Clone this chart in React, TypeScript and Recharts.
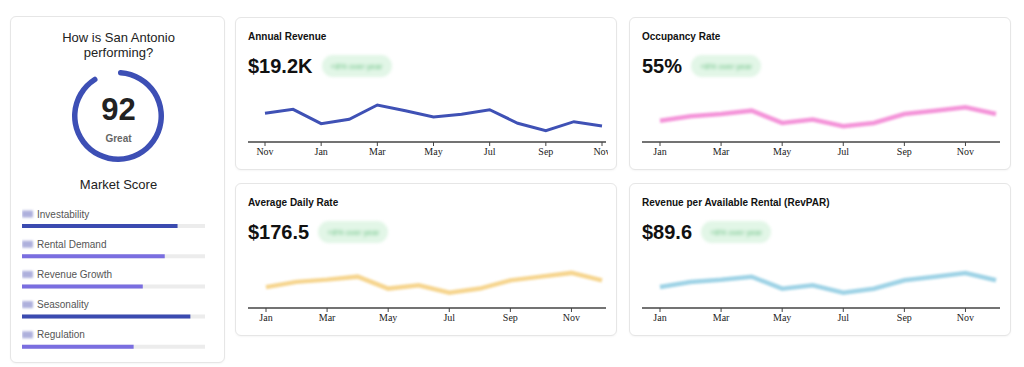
import React from 'react';
import { LineChart, Line, XAxis, YAxis, PieChart, Pie, Cell, BarChart, Bar, LabelList } from 'recharts';

// market score
const score = 92;
const scoreLabel = 'Great';

const metricNames = ['Investability', 'Rental Demand', 'Revenue Growth', 'Seasonality', 'Regulation'];
const metricValues = [85, 78, 66, 92, 61];
const metricColors = ['#3b4bb0', '#7a6ee0', '#7a6ee0', '#3b4bb0', '#7a6ee0'];

// monthly series
const revenueMonths = ['Nov', 'Dec', 'Jan', 'Feb', 'Mar', 'Apr', 'May', 'Jun', 'Jul', 'Aug', 'Sep', 'Oct', 'Nov'];
const revenueValues = [1513, 1584, 1327, 1405, 1661, 1559, 1446, 1495, 1577, 1334, 1202, 1363, 1286];

const months = ['Jan', 'Feb', 'Mar', 'Apr', 'May', 'Jun', 'Jul', 'Aug', 'Sep', 'Oct', 'Nov', 'Dec'];
const occupancyValues = [49, 53, 55, 58, 47, 50, 44, 47, 55, 58, 61, 55];
const adrValues = [156, 170, 176, 184, 152, 161, 141, 152, 174, 184, 194, 174];
const revparValues = [77.5, 86.4, 90.5, 95.9, 74.5, 80.5, 67.3, 74.5, 89.5, 95.9, 102.5, 89.5];

const sans = 'Helvetica, Arial, "Liberation Sans", sans-serif';
const serif = '"Liberation Serif", "Times New Roman", serif';

const card: React.CSSProperties = {
  position: 'absolute',
  boxSizing: 'border-box',
  border: '1px solid #e6e6e6',
  borderRadius: 6,
  background: '#fff',
  boxShadow: '0 1px 2px rgba(0,0,0,0.04)',
};

const Badge = () => (
  <div style={{ width: 70, height: 22, borderRadius: 11, background: '#e2f6e7', filter: 'blur(1.5px)', display: 'flex', alignItems: 'center', justifyContent: 'center' }}>
    <span style={{ fontSize: 8, color: '#63bd7d', fontFamily: sans, filter: 'blur(0.8px)' }}>+8% over year</span>
  </div>
);

type MetricProps = {
  left: number;
  top: number;
  title: string;
  value: string;
  cats: string[];
  values: number[];
  domain: [number, number];
  color: string;
  soft?: boolean;
  padLeft: number;
};

function MetricCard({ left, top, title, value, cats, values, domain, color, soft, padLeft }: MetricProps) {
  const data = cats.map((m, i) => ({ month: m, value: values[i] }));
  return (
    <div style={{ ...card, left, top, width: 382, height: 153 }}>
      <div style={{ position: 'absolute', left: 12, top: 13, fontSize: 10, lineHeight: '12px', fontWeight: 700, color: '#111', fontFamily: sans }}>
        {title}
      </div>
      <div style={{ position: 'absolute', left: 12, top: 37, height: 22, display: 'flex', alignItems: 'center', gap: 9 }}>
        <span style={{ fontSize: 20, fontWeight: 700, color: '#111', fontFamily: sans }}>{value}</span>
        <Badge />
      </div>
      <div className={soft ? 'soft' : ''} style={{ position: 'absolute', left: 12, top: 68 }}>
        <LineChart width={360} height={78} data={data} margin={{ top: 0, right: 2, bottom: 0, left: 0 }}>
          <XAxis
            dataKey="month"
            interval={1}
            height={22}
            padding={{ left: padLeft, right: 4 }}
            axisLine={{ stroke: '#444', strokeWidth: 1.3 }}
            tickLine={{ stroke: '#444' }}
            tickSize={4}
            tick={{ fontSize: 10, fill: '#222', fontFamily: serif }}
          />
          <YAxis hide domain={domain} />
          <Line type="linear" dataKey="value" stroke={color} strokeWidth={soft ? 4.5 : 3} dot={false} isAnimationActive={false} />
        </LineChart>
      </div>
    </div>
  );
}

const renderMetricLabel = (props: any) => {
  const { x, y, value } = props;
  return (
    <g>
      <rect x={x} y={y - 13.5} width={11} height={7} fill="#aeb0dc" style={{ filter: 'blur(1px)' }} />
      <text x={x + 15} y={y - 6.5} fontSize={10} fill="#555" fontFamily={sans}>
        {value}
      </text>
    </g>
  );
};

export default function App() {
  const scoreData = [
    { name: 'score', value: score },
    { name: 'rest', value: 100 - score },
  ];
  const metricData = metricNames.map((n, i) => ({ name: n, value: metricValues[i] }));

  return (
    <div style={{ position: 'absolute', left: 0, top: 0, width: 1024, height: 367, background: '#fff', overflow: 'hidden' }}>
      <style>{`.soft .recharts-line-curve { filter: blur(1.3px); }`}</style>

      {/* market score card */}
      <div style={{ ...card, left: 10, top: 16, width: 215, height: 347 }}>
        <div style={{ position: 'absolute', left: 0, width: 215, top: 13, textAlign: 'center', fontSize: 13, lineHeight: '15px', color: '#222', fontFamily: sans }}>
          How is San Antonio
          <br />
          performing?
        </div>
        <div style={{ position: 'absolute', left: 57, top: 49 }}>
          <PieChart width={100} height={100} margin={{ top: 0, right: 0, bottom: 0, left: 0 }}>
            <Pie
              data={scoreData}
              dataKey="value"
              cx={50}
              cy={50}
              innerRadius={40.5}
              outerRadius={46}
              startAngle={90}
              endAngle={-270}
              cornerRadius={3}
              stroke="none"
              isAnimationActive={false}
            >
              <Cell fill="#3d4fb5" />
              <Cell fill="transparent" />
            </Pie>
          </PieChart>
        </div>
        <div style={{ position: 'absolute', left: 0, width: 215, top: 75, textAlign: 'center', fontSize: 31, lineHeight: '36px', fontWeight: 700, color: '#222', fontFamily: sans }}>
          {score}
        </div>
        <div style={{ position: 'absolute', left: 0, width: 215, top: 116, textAlign: 'center', fontSize: 10, lineHeight: '12px', fontWeight: 700, color: '#666', fontFamily: sans }}>
          {scoreLabel}
        </div>
        <div style={{ position: 'absolute', left: 0, width: 215, top: 160, textAlign: 'center', fontSize: 13, lineHeight: '16px', color: '#222', fontFamily: sans }}>
          Market Score
        </div>
        <div style={{ position: 'absolute', left: 11, top: 179 }}>
          <BarChart layout="vertical" width={183} height={166} data={metricData} margin={{ top: 15, right: 0, bottom: 0, left: 0 }}>
            <XAxis type="number" hide domain={[0, 100]} />
            <YAxis type="category" dataKey="name" hide />
            <Bar dataKey="value" barSize={4} background={{ fill: '#ececec' }} isAnimationActive={false}>
              {metricData.map((m, i) => (
                <Cell key={m.name} fill={metricColors[i]} />
              ))}
              <LabelList dataKey="name" content={renderMetricLabel} />
            </Bar>
          </BarChart>
        </div>
      </div>

      <MetricCard left={235} top={17} title="Annual Revenue" value="$19.2K" cats={revenueMonths} values={revenueValues} domain={[1000, 2000]} color="#3f51b5" padLeft={17} />
      <MetricCard left={629} top={17} title="Occupancy Rate" value="55%" cats={months} values={occupancyValues} domain={[30, 80]} color="#f494d9" soft padLeft={18} />
      <MetricCard left={235} top={183} title="Average Daily Rate" value="$176.5" cats={months} values={adrValues} domain={[100, 250]} color="#f6d58f" soft padLeft={18} />
      <MetricCard left={629} top={183} title="Revenue per Available Rental (RevPAR)" value="$89.6" cats={months} values={revparValues} domain={[40, 140]} color="#9fd3e6" soft padLeft={18} />
    </div>
  );
}
